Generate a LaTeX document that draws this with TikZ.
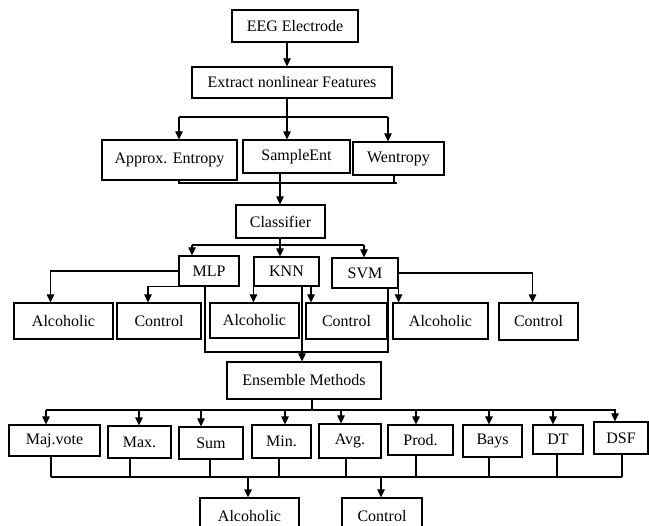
\documentclass[tikz,border=0pt]{standalone}
\usepackage{fontspec}
\setmainfont{Liberation Serif}
\usetikzlibrary{arrows.meta}

\begin{document}
\begin{tikzpicture}[x=1pt, y=-1pt,
    every node/.style={font=\fontsize{16}{19}\selectfont},
    box/.style 2 args={draw, line width=1.2pt, inner sep=0pt, minimum width=#1pt, minimum height=#2pt},
    ln/.style={line width=1.2pt},
    arr/.style={line width=1.2pt, -{Triangle[length=8pt,width=7.5pt]}}]

        \useasboundingbox (0,0) rectangle (649,526);

        % Top: electrode and feature extraction
        \node[box={126}{32}] (eeg) at (295,26) {EEG Electrode};
        \node[box={200}{31}] (feat) at (292,82.5) {Extract nonlinear Features};

        \node[box={135}{40}] (apen) at (169.5,160) {Approx. Entropy};
        \node[box={107}{33}] (sampen) at (296.5,156.5) {SampleEnt};
        \node[box={91}{33}] (wen) at (398.5,158.5) {Wentropy};

        \node[box={89}{33}] (clf) at (280.5,221.5) {Classifier};

        % Classifiers
        \node[box={60}{30}] (mlp) at (209,271) {MLP};
        \node[box={65}{29}] (knn) at (286.5,271.5) {KNN};
        \node[box={66}{30}] (svm) at (365,273) {SVM};

        % Classifier outputs
        \node[box={99}{36}] (alc1) at (63.5,321) {Alcoholic};
        \node[box={84}{36}] (con1) at (159,321) {Control};
        \node[box={89}{35}] (alc2) at (254.5,320.5) {Alcoholic};
        \node[box={81}{36}] (con2) at (346.5,321) {Control};
        \node[box={95}{36}] (alc3) at (440.5,321) {Alcoholic};
        \node[box={79}{37}] (con3) at (538.5,321.5) {Control};

        \node[box={154}{37}] (ens) at (304,380.5) {Ensemble Methods};

        % Ensemble rules
        \node[box={91}{31}] (maj) at (54.5,440.5) {Maj.vote};
        \node[box={63}{32}] (max) at (139.5,442) {Max.};
        \node[box={64}{32}] (sum) at (211,443) {Sum};
        \node[box={59}{33}] (min) at (281.5,441.5) {Min.};
        \node[box={62}{34}] (avg) at (350,441) {Avg.};
        \node[box={65}{30}] (prod) at (420.5,440) {Prod.};
        \node[box={59}{32}] (bays) at (492.5,441) {Bays};
        \node[box={50}{29}] (dt) at (558,439.5) {DT};
        \node[box={54}{32}] (dsf) at (621,438) {DSF};

        % Final decision (cut by the page edge)
        \node[box={99}{36}] (alcf) at (249.5,516) {Alcoholic};
        \node[box={80}{36}] (conf) at (382,516) {Control};

        % Connectors: electrode to features
        \draw[arr] (eeg.south -| 287,0) -- (feat.north -| 287,0);
        \draw[ln] (feat.south -| 287,0) -- (287,117);
        \draw[ln] (179,117) -- (388,117);
        \draw[arr] (179,117) -- (apen.north -| 179,0);
        \draw[arr] (287,117) -- (sampen.north -| 287,0);
        \draw[arr] (388,117) -- (wen.north -| 388,0);

        % Features merge into classifier
        \draw[ln] (apen.south -| 179,0) -- (179,183) -- (397,183);
        \draw[ln] (wen.south -| 394,0) -- (394,183);
        \draw[arr] (sampen.south -| 280,0) -- (clf.north -| 280,0);

        % Classifier bus
        \draw[ln] (clf.south -| 280,0) -- (280,245);
        \draw[ln] (192,245) -- (364,245);
        \draw[arr] (192,245) -- (mlp.north -| 192,0);
        \draw[arr] (280,245) -- (knn.north -| 280,0);
        \draw[arr] (364,245) -- (svm.north -| 364,0);

        % Classifier outputs
        \draw[arr] (mlp.west) -| ([xshift=-13pt]alc1.north);
        \draw[arr] (mlp.south west) -| ([xshift=-11pt]con1.north);
        \draw[arr] (knn.south west) -- (knn.south west |- alc2.north);
        \draw[arr] (knn.south -| 311,0) -- (con2.north -| 311,0);
        \draw[arr] (svm.south east) -- (svm.south east |- alc3.north);
        \draw[arr] (svm.east) -| ([xshift=-6pt]con3.north);

        % Classifiers merge into ensemble
        \draw[ln] (mlp.south -| 205,0) -- (205,352) -- (389,352);
        \draw[ln] (svm.south -| 388,0) -- (388,352);
        \draw[arr] (knn.south -| 302,0) -- (ens.north -| 302,0);

        % Ensemble bus
        \draw[ln] (ens.south -| 312,0) -- (312,410);
        \draw[ln] (46,410) -- (616,410);
        \foreach \n/\x in {maj/46, max/139, sum/201, min/285, avg/341, prod/416, bays/489, dt/553, dsf/615}
            \draw[arr] (\x,410) -- (\n.north -| \x,0);

        % Rules merge into final decision
        \foreach \n/\x in {maj/51, max/130, sum/210, min/279, avg/346, prod/416, bays/489, dt/557, dsf/622}
            \draw[ln] (\n.south -| \x,0) -- (\x,477);
        \draw[ln] (51,477) -- (622,477);
        \draw[arr] (248,477) -- (alcf.north -| 248,0);
        \draw[arr] (381,477) -- (conf.north -| 381,0);

\end{tikzpicture}
\end{document}
